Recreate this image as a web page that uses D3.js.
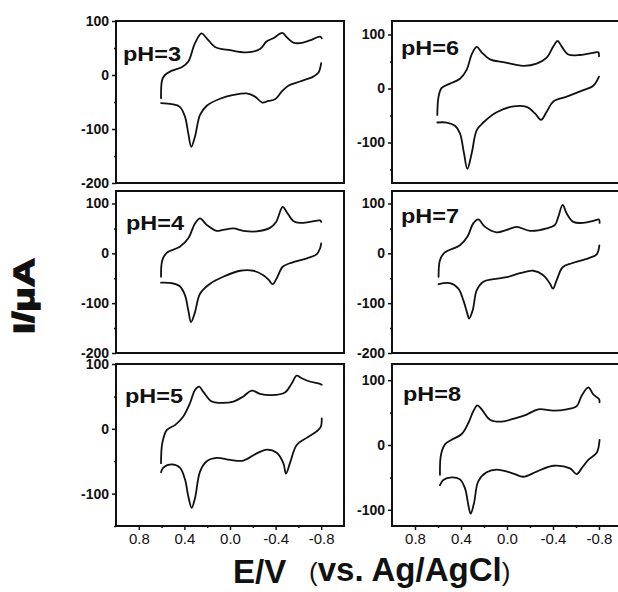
<!DOCTYPE html>
<html><head><meta charset="utf-8">
<script src="https://cdn.jsdelivr.net/npm/d3@7"></script>
<style>body{margin:0;background:#fff}svg{display:block}</style>
</head><body>
<svg id="chart" width="618" height="592"></svg>
<script>
// Cyclic voltammograms, [E (V vs. Ag/AgCl), I (µA)]; each scan is split into
// its upper (anodic) and lower (cathodic) branch, both listed from +0.6 V to -0.8 V.
const ph3Upper = [[0.605,-43],[0.595,-9],[0.57,0],[0.51,8],[0.42,15],[0.366,25],[0.307,59],[0.25,77],[0.204,68],[0.132,52],[0.0,46],[-0.146,42],[-0.263,48],[-0.32,62],[-0.38,68],[-0.459,78],[-0.497,70],[-0.555,60],[-0.614,59],[-0.70,64],[-0.79,71],[-0.805,68]];
const ph3Lower = [[0.605,-52],[0.51,-54],[0.44,-59],[0.395,-77],[0.366,-108],[0.34,-133],[0.307,-114],[0.263,-74],[0.204,-57],[0.088,-44],[-0.03,-37],[-0.146,-34],[-0.22,-40],[-0.283,-51],[-0.336,-48],[-0.395,-45],[-0.453,-31],[-0.511,-20],[-0.614,-12],[-0.73,-3],[-0.775,4],[-0.80,22]];

const ph4Upper = [[0.605,-47],[0.594,-14],[0.555,1],[0.44,13],[0.366,30],[0.307,60],[0.263,70],[0.204,57],[0.117,45],[0.06,47],[-0.03,50],[-0.117,45],[-0.234,44],[-0.35,51],[-0.404,63],[-0.462,93],[-0.497,83],[-0.555,65],[-0.614,61],[-0.70,63],[-0.79,66],[-0.8,63]];
const ph4Lower = [[0.605,-59],[0.51,-60],[0.44,-66],[0.395,-84],[0.366,-114],[0.342,-138],[0.307,-118],[0.263,-81],[0.175,-61],[0.06,-47],[-0.088,-35],[-0.204,-35],[-0.292,-44],[-0.342,-54],[-0.374,-62],[-0.41,-50],[-0.462,-27],[-0.526,-20],[-0.673,-10],[-0.76,-2],[-0.79,10],[-0.8,20]];

const ph5Upper = [[0.605,-53],[0.594,-22],[0.555,-2],[0.48,6],[0.41,19],[0.35,40],[0.307,60],[0.27,65],[0.234,57],[0.16,42],[0.088,40],[-0.03,42],[-0.117,50],[-0.19,59],[-0.263,54],[-0.366,52],[-0.482,56],[-0.541,70],[-0.585,82],[-0.629,78],[-0.70,73],[-0.775,70],[-0.805,68]];
const ph5Lower = [[0.605,-67],[0.585,-60],[0.51,-55],[0.44,-60],[0.395,-78],[0.366,-104],[0.336,-122],[0.307,-107],[0.263,-66],[0.204,-50],[0.117,-45],[0.0,-48],[-0.117,-49],[-0.234,-38],[-0.322,-32],[-0.41,-37],[-0.468,-53],[-0.491,-69],[-0.526,-53],[-0.585,-25],[-0.673,-14],[-0.76,-4],[-0.796,3],[-0.805,16]];

const ph6Upper = [[0.606,-49],[0.595,-15],[0.568,1],[0.496,9],[0.409,18],[0.35,35],[0.307,63],[0.263,77],[0.22,67],[0.148,54],[0.032,49],[-0.142,42],[-0.258,46],[-0.345,57],[-0.403,78],[-0.44,88],[-0.475,78],[-0.533,63],[-0.635,62],[-0.75,66],[-0.794,67],[-0.8,60]];
const ph6Lower = [[0.606,-63],[0.524,-63],[0.452,-69],[0.409,-83],[0.374,-120],[0.345,-149],[0.307,-120],[0.263,-77],[0.206,-63],[0.09,-44],[-0.055,-33],[-0.171,-34],[-0.243,-46],[-0.296,-58],[-0.345,-43],[-0.403,-24],[-0.519,-15],[-0.664,-3],[-0.75,5],[-0.8,22]];

const ph7Upper = [[0.595,-47],[0.583,-14],[0.545,1],[0.409,16],[0.345,33],[0.293,60],[0.25,68],[0.191,53],[0.09,42],[0.003,47],[-0.084,53],[-0.2,45],[-0.345,50],[-0.417,57],[-0.446,73],[-0.484,97],[-0.519,80],[-0.577,63],[-0.664,61],[-0.75,65],[-0.8,68],[-0.805,61]];
const ph7Lower = [[0.595,-62],[0.496,-60],[0.423,-71],[0.38,-94],[0.345,-121],[0.33,-131],[0.298,-114],[0.263,-74],[0.206,-57],[0.119,-52],[0.003,-48],[-0.113,-40],[-0.229,-35],[-0.316,-44],[-0.374,-61],[-0.4,-71],[-0.432,-54],[-0.484,-28],[-0.563,-20],[-0.707,-10],[-0.78,-2],[-0.803,16]];

const ph8Upper = [[0.583,-46],[0.574,-15],[0.539,1],[0.481,8],[0.394,17],[0.336,34],[0.293,52],[0.258,61],[0.22,55],[0.148,39],[0.046,36],[-0.084,42],[-0.171,47],[-0.272,55],[-0.403,53],[-0.519,55],[-0.606,60],[-0.649,76],[-0.707,89],[-0.75,78],[-0.8,71],[-0.805,66]];
const ph8Lower = [[0.583,-62],[0.554,-54],[0.481,-50],[0.409,-53],[0.365,-67],[0.336,-93],[0.316,-106],[0.287,-90],[0.25,-56],[0.177,-42],[0.09,-38],[-0.055,-44],[-0.142,-49],[-0.258,-41],[-0.403,-32],[-0.548,-36],[-0.606,-45],[-0.649,-36],[-0.707,-23],[-0.78,-12],[-0.805,8]];

// Panel order: left column pH 3-5 top to bottom, right column pH 6-8.
const panelLabels = ["pH=3", "pH=4", "pH=5", "pH=6", "pH=7", "pH=8"];
const panelScans = [[ph3Upper, ph3Lower], [ph4Upper, ph4Lower], [ph5Upper, ph5Lower],
                    [ph6Upper, ph6Lower], [ph7Upper, ph7Lower], [ph8Upper, ph8Lower]];
const yDomains = [[-200, 100], [-200, 125], [-150, 100], [-175, 125], [-200, 125], [-125, 125]];
const yMajorTicks = [100, 0, -100, -200];
const yMinorTicks = [50, -50, -150];
const xDomain = [1.0, -1.0];
const xMajorTicks = [0.8, 0.4, 0.0, -0.4, -0.8];
const xMinorTicks = [0.6, 0.2, -0.2, -0.6];

const svg = d3.select("#chart");
const FONT = "'Liberation Sans', Arial, sans-serif";
const colX = [116, 392], colW = [228, 230];
const rowY = [21, 191, 364], rowH = 162;
const labelPos = [[7, 40], [10, 39], [9, 39], [9, 34], [9, 32], [11, 37]];

panelScans.forEach((scans, i) => {
  const col = Math.floor(i / 3), row = i % 3;
  const x0 = colX[col], y0 = rowY[row], w = colW[col];
  const g = svg.append("g").attr("transform", `translate(${x0},${y0})`);

  const x = d3.scaleLinear().domain(xDomain).range([0, w]);
  const y = d3.scaleLinear().domain(yDomains[i]).range([rowH, 0]);
  const inDomain = v => v >= yDomains[i][0] && v <= yDomains[i][1];

  // y axis: labelled major ticks and short minor ticks
  const ya = g.append("g").call(d3.axisLeft(y).tickValues(yMajorTicks.filter(inDomain))
      .tickSize(4).tickPadding(3).tickFormat(d => String(d)));
  ya.selectAll("text").attr("font-family", FONT).attr("font-weight", "bold")
      .attr("font-size", 14).attr("fill", "#111");
  const ym = g.append("g").call(d3.axisLeft(y).tickValues(yMinorTicks.filter(inDomain))
      .tickSize(2).tickFormat(""));
  [ya, ym].forEach(a => {
    a.select(".domain").remove();
    a.selectAll("line").attr("stroke", "#111").attr("stroke-width", 1.5);
  });

  // x axis only on the bottom row
  if (row === 2) {
    const xa = g.append("g").attr("transform", `translate(0,${rowH})`)
      .call(d3.axisBottom(x).tickValues(xMajorTicks).tickSize(4).tickPadding(3)
        .tickFormat(d => d.toFixed(1)));
    xa.selectAll("text").attr("font-family", FONT).attr("font-size", 15).attr("fill", "#111");
    const xm = g.append("g").attr("transform", `translate(0,${rowH})`)
      .call(d3.axisBottom(x).tickValues(xMinorTicks).tickSize(2).tickFormat(""));
    [xa, xm].forEach(a => {
      a.select(".domain").remove();
      a.selectAll("line").attr("stroke", "#111").attr("stroke-width", 1.5);
    });
  }

  // frame
  g.append("rect").attr("width", w).attr("height", rowH)
    .attr("fill", "none").attr("stroke", "#111").attr("stroke-width", 2);

  // scan branches
  const line = d3.line().x(d => x(d[0])).y(d => y(d[1])).curve(d3.curveCatmullRom.alpha(0.5));
  scans.forEach(branch => {
    g.append("path").datum(branch).attr("d", line)
      .attr("fill", "none").attr("stroke", "#111").attr("stroke-width", 1.8)
      .attr("stroke-linejoin", "round").attr("stroke-linecap", "round");
  });

  g.append("text").attr("x", labelPos[i][0]).attr("y", labelPos[i][1])
    .attr("font-family", FONT).attr("font-weight", "bold").attr("font-size", 21)
    .attr("textLength", 58).attr("lengthAdjust", "spacingAndGlyphs")
    .attr("fill", "#111").text(panelLabels[i]);
});

// axis titles
svg.append("text").attr("transform", "translate(34,296) rotate(-90)")
  .attr("text-anchor", "middle").attr("font-family", FONT).attr("font-weight", "bold")
  .attr("font-size", 29).attr("textLength", 76).attr("lengthAdjust", "spacingAndGlyphs")
  .attr("fill", "#111").attr("stroke", "#111").attr("stroke-width", 1.4)
  .text("I/\u03bcA");

const xt = svg.append("g").attr("font-family", FONT).attr("fill", "#111");
xt.append("text").attr("x", 233).attr("y", 583).attr("font-weight", "bold")
  .attr("font-size", 33).text("E/V");
const vs = xt.append("text").attr("x", 309).attr("y", 581).attr("font-size", 26);
vs.append("tspan").text("(");
vs.append("tspan").attr("font-weight", "bold").attr("font-size", 33).attr("dx", 0).text("vs. Ag/AgCl");
vs.append("tspan").text(")");
</script>
</body></html>
